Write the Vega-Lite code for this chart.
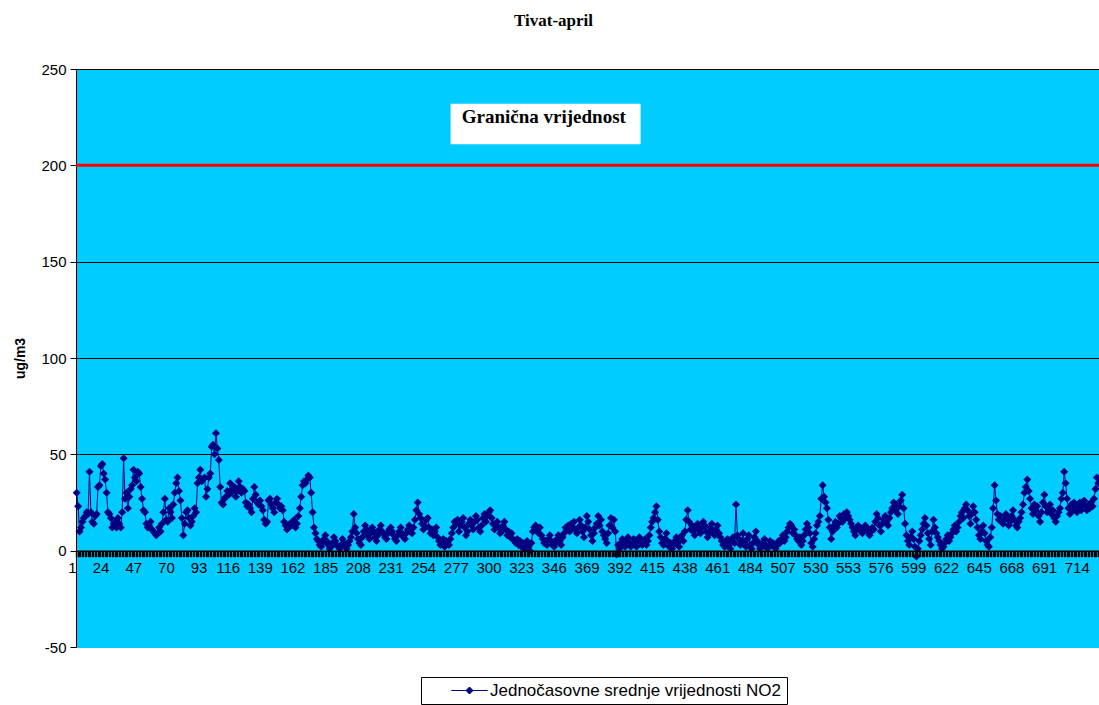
{
"$schema": "https://vega.github.io/schema/vega-lite/v6.json",
"width": 1023, "height": 578,
"autosize": {"type": "none"},
"padding": {"left": 76, "top": 69, "right": 0, "bottom": 58},
"background": "white",
"title": {"text": "Tivat-april", "font": "Liberation Serif", "fontWeight": "bold", "fontSize": 17, "color": "black", "frame": "group", "anchor": "middle", "dx": -34, "offset": 32},
"config": {"view": {"fill": "#00CCFF", "stroke": null}, "axis": {"labelFont": "Liberation Sans", "labelColor": "black", "titleColor": "black"}},
"data": {"values": [
{"h":1,"v":30},{"h":2,"v":23},{"h":3,"v":10},{"h":4,"v":12},{"h":5,"v":15},{"h":6,"v":17},{"h":7,"v":18},{"h":8,"v":20},{"h":9,"v":19},{"h":10,"v":41},
{"h":11,"v":20},{"h":12,"v":15},{"h":13,"v":14},{"h":14,"v":18},{"h":15,"v":19},{"h":16,"v":33},{"h":17,"v":34},{"h":18,"v":44},{"h":19,"v":45},{"h":20,"v":40},
{"h":21,"v":37},{"h":22,"v":30},{"h":23,"v":20},{"h":24,"v":19},{"h":25,"v":17},{"h":26,"v":12},{"h":27,"v":14},{"h":28,"v":15},{"h":29,"v":12},{"h":30,"v":17},
{"h":31,"v":14},{"h":32,"v":12},{"h":33,"v":20},{"h":34,"v":48},{"h":35,"v":27},{"h":36,"v":30},{"h":37,"v":22},{"h":38,"v":28},{"h":39,"v":32},{"h":40,"v":34},
{"h":41,"v":42},{"h":42,"v":38},{"h":43,"v":36},{"h":44,"v":41},{"h":45,"v":40},{"h":46,"v":33},{"h":47,"v":27},{"h":48,"v":21},{"h":49,"v":20},{"h":50,"v":14},
{"h":51,"v":12},{"h":52,"v":13},{"h":53,"v":15},{"h":54,"v":11},{"h":55,"v":10},{"h":56,"v":9},{"h":57,"v":8},{"h":58,"v":9},{"h":59,"v":12},{"h":60,"v":10},
{"h":61,"v":14},{"h":62,"v":20},{"h":63,"v":27},{"h":64,"v":16},{"h":65,"v":15},{"h":66,"v":22},{"h":67,"v":20},{"h":68,"v":17},{"h":69,"v":24},{"h":70,"v":30},
{"h":71,"v":35},{"h":72,"v":38},{"h":73,"v":31},{"h":74,"v":26},{"h":75,"v":17},{"h":76,"v":8},{"h":77,"v":14},{"h":78,"v":20},{"h":79,"v":21},{"h":80,"v":17},
{"h":81,"v":13},{"h":82,"v":15},{"h":83,"v":18},{"h":84,"v":22},{"h":85,"v":20},{"h":86,"v":35},{"h":87,"v":38},{"h":88,"v":42},{"h":89,"v":36},{"h":90,"v":37},
{"h":91,"v":38},{"h":92,"v":28},{"h":93,"v":32},{"h":94,"v":38},{"h":95,"v":40},{"h":96,"v":54},{"h":97,"v":55},{"h":98,"v":50},{"h":99,"v":61},{"h":100,"v":53},
{"h":101,"v":47},{"h":102,"v":33},{"h":103,"v":25},{"h":104,"v":24},{"h":105,"v":27},{"h":106,"v":28},{"h":107,"v":31},{"h":108,"v":29},{"h":109,"v":35},{"h":110,"v":30},
{"h":111,"v":32},{"h":112,"v":33},{"h":113,"v":28},{"h":114,"v":31},{"h":115,"v":36},{"h":116,"v":33},{"h":117,"v":30},{"h":118,"v":32},{"h":119,"v":31},{"h":120,"v":25},
{"h":121,"v":23},{"h":122,"v":24},{"h":123,"v":22},{"h":124,"v":20},{"h":125,"v":27},{"h":126,"v":33},{"h":127,"v":29},{"h":128,"v":25},{"h":129,"v":24},{"h":130,"v":26},
{"h":131,"v":23},{"h":132,"v":21},{"h":133,"v":16},{"h":134,"v":14},{"h":135,"v":15},{"h":136,"v":26},{"h":137,"v":27},{"h":138,"v":24},{"h":139,"v":22},{"h":140,"v":20},
{"h":141,"v":25},{"h":142,"v":27},{"h":143,"v":24},{"h":144,"v":22},{"h":145,"v":23},{"h":146,"v":21},{"h":147,"v":15},{"h":148,"v":13},{"h":149,"v":11},{"h":150,"v":12},
{"h":151,"v":14},{"h":152,"v":13},{"h":153,"v":15},{"h":154,"v":16},{"h":155,"v":12},{"h":156,"v":14},{"h":157,"v":18},{"h":158,"v":22},{"h":159,"v":28},{"h":160,"v":34},
{"h":161,"v":36},{"h":162,"v":35},{"h":163,"v":37},{"h":164,"v":39},{"h":165,"v":38},{"h":166,"v":30},{"h":167,"v":20},{"h":168,"v":12},{"h":169,"v":9},{"h":170,"v":6},
{"h":171,"v":5},{"h":172,"v":3},{"h":173,"v":2},{"h":174,"v":4},{"h":175,"v":6},{"h":176,"v":8},{"h":177,"v":5},{"h":178,"v":3},{"h":179,"v":1},{"h":180,"v":2},
{"h":181,"v":4},{"h":182,"v":7},{"h":183,"v":5},{"h":184,"v":3},{"h":185,"v":2},{"h":186,"v":1},{"h":187,"v":3},{"h":188,"v":6},{"h":189,"v":4},{"h":190,"v":2},
{"h":191,"v":1},{"h":192,"v":3},{"h":193,"v":5},{"h":194,"v":7},{"h":195,"v":10},{"h":196,"v":19},{"h":197,"v":12},{"h":198,"v":9},{"h":199,"v":6},{"h":200,"v":4},
{"h":201,"v":3},{"h":202,"v":7},{"h":203,"v":10},{"h":204,"v":13},{"h":205,"v":11},{"h":206,"v":8},{"h":207,"v":6},{"h":208,"v":9},{"h":209,"v":12},{"h":210,"v":10},
{"h":211,"v":7},{"h":212,"v":5},{"h":213,"v":8},{"h":214,"v":11},{"h":215,"v":13},{"h":216,"v":10},{"h":217,"v":9},{"h":218,"v":7},{"h":219,"v":6},{"h":220,"v":9},
{"h":221,"v":11},{"h":222,"v":12},{"h":223,"v":10},{"h":224,"v":8},{"h":225,"v":6},{"h":226,"v":5},{"h":227,"v":8},{"h":228,"v":10},{"h":229,"v":12},{"h":230,"v":9},
{"h":231,"v":7},{"h":232,"v":6},{"h":233,"v":9},{"h":234,"v":11},{"h":235,"v":13},{"h":236,"v":11},{"h":237,"v":9},{"h":238,"v":12},{"h":239,"v":16},{"h":240,"v":21},
{"h":241,"v":25},{"h":242,"v":19},{"h":243,"v":17},{"h":244,"v":14},{"h":245,"v":11},{"h":246,"v":13},{"h":247,"v":16},{"h":248,"v":17},{"h":249,"v":12},{"h":250,"v":9},
{"h":251,"v":11},{"h":252,"v":8},{"h":253,"v":10},{"h":254,"v":12},{"h":255,"v":7},{"h":256,"v":5},{"h":257,"v":3},{"h":258,"v":4},{"h":259,"v":6},{"h":260,"v":2},
{"h":261,"v":5},{"h":262,"v":4},{"h":263,"v":3},{"h":264,"v":6},{"h":265,"v":9},{"h":266,"v":12},{"h":267,"v":15},{"h":268,"v":14},{"h":269,"v":16},{"h":270,"v":10},
{"h":271,"v":13},{"h":272,"v":15},{"h":273,"v":17},{"h":274,"v":12},{"h":275,"v":8},{"h":276,"v":10},{"h":277,"v":14},{"h":278,"v":16},{"h":279,"v":13},{"h":280,"v":11},
{"h":281,"v":15},{"h":282,"v":18},{"h":283,"v":16},{"h":284,"v":12},{"h":285,"v":10},{"h":286,"v":13},{"h":287,"v":17},{"h":288,"v":19},{"h":289,"v":15},{"h":290,"v":18},
{"h":291,"v":20},{"h":292,"v":21},{"h":293,"v":17},{"h":294,"v":14},{"h":295,"v":11},{"h":296,"v":13},{"h":297,"v":15},{"h":298,"v":12},{"h":299,"v":9},{"h":300,"v":10},
{"h":301,"v":13},{"h":302,"v":15},{"h":303,"v":11},{"h":304,"v":8},{"h":305,"v":10},{"h":306,"v":7},{"h":307,"v":9},{"h":308,"v":6},{"h":309,"v":5},{"h":310,"v":4},
{"h":311,"v":6},{"h":312,"v":3},{"h":313,"v":5},{"h":314,"v":2},{"h":315,"v":4},{"h":316,"v":1},{"h":317,"v":3},{"h":318,"v":5},{"h":319,"v":2},{"h":320,"v":0},
{"h":321,"v":4},{"h":322,"v":10},{"h":323,"v":12},{"h":324,"v":13},{"h":325,"v":11},{"h":326,"v":9},{"h":327,"v":12},{"h":328,"v":8},{"h":329,"v":6},{"h":330,"v":4},
{"h":331,"v":5},{"h":332,"v":3},{"h":333,"v":6},{"h":334,"v":8},{"h":335,"v":5},{"h":336,"v":3},{"h":337,"v":2},{"h":338,"v":4},{"h":339,"v":6},{"h":340,"v":8},
{"h":341,"v":5},{"h":342,"v":3},{"h":343,"v":7},{"h":344,"v":9},{"h":345,"v":12},{"h":346,"v":11},{"h":347,"v":13},{"h":348,"v":10},{"h":349,"v":14},{"h":350,"v":12},
{"h":351,"v":15},{"h":352,"v":11},{"h":353,"v":9},{"h":354,"v":12},{"h":355,"v":16},{"h":356,"v":13},{"h":357,"v":10},{"h":358,"v":7},{"h":359,"v":12},{"h":360,"v":18},
{"h":361,"v":15},{"h":362,"v":11},{"h":363,"v":8},{"h":364,"v":5},{"h":365,"v":9},{"h":366,"v":12},{"h":367,"v":14},{"h":368,"v":18},{"h":369,"v":13},{"h":370,"v":16},
{"h":371,"v":10},{"h":372,"v":8},{"h":373,"v":6},{"h":374,"v":4},{"h":375,"v":9},{"h":376,"v":13},{"h":377,"v":17},{"h":378,"v":12},{"h":379,"v":16},{"h":380,"v":10},
{"h":381,"v":-2},{"h":382,"v":3},{"h":383,"v":1},{"h":384,"v":4},{"h":385,"v":6},{"h":386,"v":3},{"h":387,"v":2},{"h":388,"v":5},{"h":389,"v":7},{"h":390,"v":4},
{"h":391,"v":2},{"h":392,"v":3},{"h":393,"v":6},{"h":394,"v":4},{"h":395,"v":2},{"h":396,"v":5},{"h":397,"v":7},{"h":398,"v":5},{"h":399,"v":3},{"h":400,"v":4},
{"h":401,"v":6},{"h":402,"v":3},{"h":403,"v":5},{"h":404,"v":8},{"h":405,"v":12},{"h":406,"v":15},{"h":407,"v":17},{"h":408,"v":20},{"h":409,"v":23},{"h":410,"v":16},
{"h":411,"v":10},{"h":412,"v":7},{"h":413,"v":4},{"h":414,"v":3},{"h":415,"v":6},{"h":416,"v":9},{"h":417,"v":5},{"h":418,"v":2},{"h":419,"v":4},{"h":420,"v":1},
{"h":421,"v":3},{"h":422,"v":5},{"h":423,"v":7},{"h":424,"v":4},{"h":425,"v":2},{"h":426,"v":6},{"h":427,"v":8},{"h":428,"v":5},{"h":429,"v":10},{"h":430,"v":16},
{"h":431,"v":21},{"h":432,"v":15},{"h":433,"v":11},{"h":434,"v":13},{"h":435,"v":10},{"h":436,"v":8},{"h":437,"v":12},{"h":438,"v":14},{"h":439,"v":11},{"h":440,"v":9},
{"h":441,"v":12},{"h":442,"v":15},{"h":443,"v":13},{"h":444,"v":10},{"h":445,"v":7},{"h":446,"v":9},{"h":447,"v":12},{"h":448,"v":14},{"h":449,"v":10},{"h":450,"v":8},
{"h":451,"v":11},{"h":452,"v":13},{"h":453,"v":9},{"h":454,"v":7},{"h":455,"v":5},{"h":456,"v":3},{"h":457,"v":2},{"h":458,"v":4},{"h":459,"v":6},{"h":460,"v":3},
{"h":461,"v":1},{"h":462,"v":5},{"h":463,"v":7},{"h":464,"v":4},{"h":465,"v":24},{"h":466,"v":8},{"h":467,"v":6},{"h":468,"v":3},{"h":469,"v":5},{"h":470,"v":9},
{"h":471,"v":4},{"h":472,"v":2},{"h":473,"v":6},{"h":474,"v":8},{"h":475,"v":3},{"h":476,"v":1},{"h":477,"v":4},{"h":478,"v":7},{"h":479,"v":10},{"h":480,"v":5},
{"h":481,"v":3},{"h":482,"v":1},{"h":483,"v":2},{"h":484,"v":4},{"h":485,"v":6},{"h":486,"v":3},{"h":487,"v":1},{"h":488,"v":2},{"h":489,"v":5},{"h":490,"v":3},
{"h":491,"v":4},{"h":492,"v":2},{"h":493,"v":1},{"h":494,"v":3},{"h":495,"v":5},{"h":496,"v":4},{"h":497,"v":6},{"h":498,"v":8},{"h":499,"v":5},{"h":500,"v":7},
{"h":501,"v":10},{"h":502,"v":12},{"h":503,"v":14},{"h":504,"v":13},{"h":505,"v":9},{"h":506,"v":11},{"h":507,"v":8},{"h":508,"v":6},{"h":509,"v":5},{"h":510,"v":7},
{"h":511,"v":3},{"h":512,"v":5},{"h":513,"v":8},{"h":514,"v":11},{"h":515,"v":14},{"h":516,"v":12},{"h":517,"v":9},{"h":518,"v":4},{"h":519,"v":2},{"h":520,"v":6},
{"h":521,"v":9},{"h":522,"v":13},{"h":523,"v":15},{"h":524,"v":18},{"h":525,"v":27},{"h":526,"v":34},{"h":527,"v":28},{"h":528,"v":25},{"h":529,"v":22},{"h":530,"v":16},
{"h":531,"v":12},{"h":532,"v":6},{"h":533,"v":10},{"h":534,"v":13},{"h":535,"v":15},{"h":536,"v":12},{"h":537,"v":14},{"h":538,"v":18},{"h":539,"v":17},{"h":540,"v":15},
{"h":541,"v":19},{"h":542,"v":17},{"h":543,"v":20},{"h":544,"v":18},{"h":545,"v":16},{"h":546,"v":14},{"h":547,"v":12},{"h":548,"v":10},{"h":549,"v":8},{"h":550,"v":11},
{"h":551,"v":13},{"h":552,"v":12},{"h":553,"v":10},{"h":554,"v":9},{"h":555,"v":11},{"h":556,"v":13},{"h":557,"v":12},{"h":558,"v":10},{"h":559,"v":8},{"h":560,"v":10},
{"h":561,"v":12},{"h":562,"v":11},{"h":563,"v":15},{"h":564,"v":19},{"h":565,"v":17},{"h":566,"v":13},{"h":567,"v":10},{"h":568,"v":14},{"h":569,"v":16},{"h":570,"v":18},
{"h":571,"v":15},{"h":572,"v":13},{"h":573,"v":17},{"h":574,"v":20},{"h":575,"v":22},{"h":576,"v":25},{"h":577,"v":21},{"h":578,"v":24},{"h":579,"v":19},{"h":580,"v":23},
{"h":581,"v":26},{"h":582,"v":29},{"h":583,"v":22},{"h":584,"v":14},{"h":585,"v":8},{"h":586,"v":5},{"h":587,"v":3},{"h":588,"v":7},{"h":589,"v":10},{"h":590,"v":6},
{"h":591,"v":2},{"h":592,"v":-3},{"h":593,"v":1},{"h":594,"v":5},{"h":595,"v":8},{"h":596,"v":11},{"h":597,"v":14},{"h":598,"v":17},{"h":599,"v":13},{"h":600,"v":9},
{"h":601,"v":6},{"h":602,"v":3},{"h":603,"v":10},{"h":604,"v":16},{"h":605,"v":12},{"h":606,"v":9},{"h":607,"v":7},{"h":608,"v":5},{"h":609,"v":3},{"h":610,"v":1},
{"h":611,"v":2},{"h":612,"v":4},{"h":613,"v":6},{"h":614,"v":8},{"h":615,"v":5},{"h":616,"v":7},{"h":617,"v":9},{"h":618,"v":11},{"h":619,"v":13},{"h":620,"v":10},
{"h":621,"v":12},{"h":622,"v":15},{"h":623,"v":18},{"h":624,"v":20},{"h":625,"v":17},{"h":626,"v":22},{"h":627,"v":24},{"h":628,"v":21},{"h":629,"v":18},{"h":630,"v":14},
{"h":631,"v":19},{"h":632,"v":23},{"h":633,"v":20},{"h":634,"v":16},{"h":635,"v":12},{"h":636,"v":8},{"h":637,"v":6},{"h":638,"v":10},{"h":639,"v":13},{"h":640,"v":9},
{"h":641,"v":5},{"h":642,"v":3},{"h":643,"v":2},{"h":644,"v":7},{"h":645,"v":12},{"h":646,"v":22},{"h":647,"v":34},{"h":648,"v":26},{"h":649,"v":19},{"h":650,"v":16},
{"h":651,"v":18},{"h":652,"v":15},{"h":653,"v":14},{"h":654,"v":16},{"h":655,"v":19},{"h":656,"v":17},{"h":657,"v":13},{"h":658,"v":15},{"h":659,"v":18},{"h":660,"v":21},
{"h":661,"v":16},{"h":662,"v":13},{"h":663,"v":12},{"h":664,"v":15},{"h":665,"v":17},{"h":666,"v":20},{"h":667,"v":24},{"h":668,"v":30},{"h":669,"v":33},{"h":670,"v":37},
{"h":671,"v":31},{"h":672,"v":27},{"h":673,"v":22},{"h":674,"v":19},{"h":675,"v":24},{"h":676,"v":21},{"h":677,"v":23},{"h":678,"v":18},{"h":679,"v":15},{"h":680,"v":20},
{"h":681,"v":25},{"h":682,"v":29},{"h":683,"v":23},{"h":684,"v":20},{"h":685,"v":22},{"h":686,"v":24},{"h":687,"v":19},{"h":688,"v":21},{"h":689,"v":17},{"h":690,"v":15},
{"h":691,"v":18},{"h":692,"v":20},{"h":693,"v":22},{"h":694,"v":27},{"h":695,"v":30},{"h":696,"v":41},{"h":697,"v":35},{"h":698,"v":27},{"h":699,"v":22},{"h":700,"v":19},
{"h":701,"v":24},{"h":702,"v":21},{"h":703,"v":25},{"h":704,"v":22},{"h":705,"v":20},{"h":706,"v":23},{"h":707,"v":25},{"h":708,"v":21},{"h":709,"v":24},{"h":710,"v":26},
{"h":711,"v":23},{"h":712,"v":21},{"h":713,"v":24},{"h":714,"v":22},{"h":715,"v":25},{"h":716,"v":23},{"h":717,"v":27},{"h":718,"v":32},{"h":719,"v":38},{"h":720,"v":35}
]},
"layer": [
{"data": {"values": [{}]}, "mark": {"type": "rect", "color": "white", "width": 190}, "encoding": {"x": {"datum": 331, "type": "ordinal"}, "y": {"datum": 232}, "y2": {"datum": 211}}},
{"data": {"values": [{}]}, "mark": {"type": "text", "text": "Granična vrijednost", "font": "Liberation Serif", "fontWeight": "bold", "fontSize": 19, "align": "left", "baseline": "middle", "color": "black"}, "encoding": {"x": {"datum": 272, "type": "ordinal"}, "y": {"datum": 225}}},
{"data": {"values": [{}]}, "mark": {"type": "rule", "color": "#FF0000", "strokeWidth": 3}, "encoding": {"y": {"datum": 200}}},
{"mark": {"type": "line", "strokeWidth": 1, "point": {"shape": "diamond", "size": 64, "filled": true, "opacity": 1}},
 "encoding": {
  "x": {"field": "h", "type": "ordinal", "axis": {"offset": -96.33, "domainColor": "black", "domainWidth": 1.5, "tickColor": "black", "tickWidth": 1.4, "tickSize": 6, "labelFontSize": 15, "labelAngle": 0, "labelPadding": 4, "labelBaseline": "top", "labelExpr": "(datum.value - 1) % 23 == 0 ? datum.value : ''", "labelOverlap": false, "labelBound": false, "title": null, "grid": false}},
  "y": {"field": "v", "type": "quantitative", "scale": {"domain": [-50, 250], "nice": false}, "axis": {"values": [-50, 0, 50, 100, 150, 200, 250], "labelExpr": "datum.value + ''", "grid": true, "gridColor": {"condition": {"test": "datum.value == -50", "value": "#00CCFF"}, "value": "black"}, "gridOpacity": 1, "domainColor": "black", "tickColor": "black", "tickSize": 6, "labelFontSize": 15, "labelPadding": 4, "title": "ug/m3", "titleFont": "Liberation Sans", "titleFontWeight": "bold", "titleFontSize": 14, "titlePadding": 13}},
  "color": {"datum": "Jednočasovne srednje vrijednosti NO2", "scale": {"range": ["#000080"]}, "legend": {"orient": "none", "legendX": 345, "legendY": 608, "title": null, "strokeColor": "black", "fillColor": "white", "padding": 5, "symbolType": "M2.4,0L7.6,0M5,-0.5L5.5,0L5,0.5L4.5,0Z", "symbolSize": 196, "symbolStrokeWidth": 1, "symbolStrokeColor": "#000080", "symbolFillColor": "#000080", "labelFont": "Liberation Sans", "labelFontSize": 17, "labelColor": "black", "labelOffset": 47, "labelLimit": 600, "cornerRadius": 0,
   "encode": {"symbols": {"update": {"fill": {"value": "#000080"}, "stroke": {"value": "#000080"}, "shape": {"value": "M2.4,0L7.6,0M5,-0.5L5.5,0L5,0.5L4.5,0Z"}, "strokeWidth": {"value": 1}, "opacity": {"value": 1}}}}}}
 }}
]
}
